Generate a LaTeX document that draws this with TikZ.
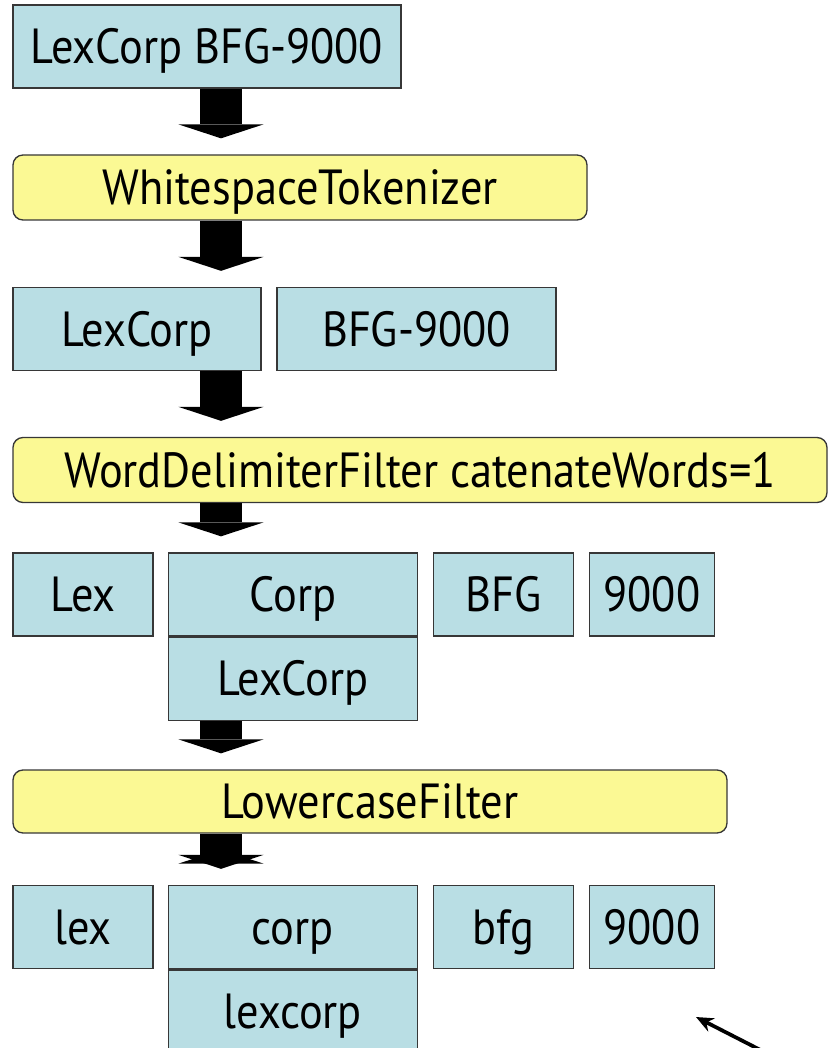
\documentclass[tikz,border=0pt]{standalone}
\usepackage{fontspec}
\setmainfont{PT Sans}[FakeStretch=0.9]
\usetikzlibrary{arrows.meta}
\usetikzlibrary{calc}
\usetikzlibrary{positioning}

\definecolor{tokenblue}{RGB}{185,222,228}
\definecolor{filteryellow}{RGB}{251,249,148}
\definecolor{boxline}{RGB}{55,55,55}

\tikzset{
  token/.style={draw=boxline,fill=tokenblue,line width=1pt,minimum height=62.25pt,inner sep=0pt,
    text height=25.5pt,text depth=0pt,font=\fontsize{37}{40}\selectfont},
  filter/.style={draw=boxline,fill=filteryellow,line width=1pt,rounded corners=7.5pt,minimum height=48.75pt,inner sep=0pt,
    text height=25.5pt,text depth=0pt,font=\fontsize{37}{40}\selectfont},
  flow/.style={line width=32pt,-{Triangle[width=64pt,length=10.5pt,line width=0pt]},shorten >=12pt}
}

\begin{document}
\begin{tikzpicture}[x=0.75pt,y=-0.75pt]

  \useasboundingbox (0,0) rectangle (829,1048);
  \clip (0,0) rectangle (829,1048);

  \node [token,minimum width=291pt] (src) at (207,46.5) {LexCorp BFG-9000};

  \node [filter,minimum width=430.5pt] (ws) at (300,187.5) {WhitespaceTokenizer};

  \node [token,minimum width=186pt] (w_lexcorp) at (137,329) {LexCorp};
  \node [token,minimum width=209.25pt,right=11pt of w_lexcorp] (w_bfg) {BFG-9000};

  \node [filter,minimum width=610.5pt] (wdf) at (420,470) {WordDelimiterFilter catenateWords=1};

  \node [token,minimum width=105pt] (d_lex) at (83,594.5) {Lex};
  \node [token,minimum width=186.75pt,right=10.5pt of d_lex] (d_corp) {Corp};
  \node [token,minimum width=186.75pt,below=0pt of d_corp] (d_lexcorp) {LexCorp};
  \node [token,minimum width=105pt,right=11pt of d_corp] (d_bfg) {BFG};
  \node [token,minimum width=93.75pt,right=11pt of d_bfg] (d_9000) {9000};

  \node [filter,minimum width=535.5pt,minimum height=47.25pt] (lc) at (370,801.5) {LowercaseFilter};

  \node [token,minimum width=105pt] (l_lex) at (83,927) {lex};
  \node [token,minimum width=186.75pt,right=10.5pt of l_lex] (l_corp) {corp};
  \node [token,minimum width=186.75pt,below=0pt of l_corp] (l_lexcorp) {lexcorp};
  \node [token,minimum width=105pt,right=11pt of l_corp] (l_bfg) {bfg};
  \node [token,minimum width=93.75pt,right=11pt of l_bfg] (l_9000) {9000};

  \coordinate (axis) at (221,0);

  \path [draw,flow]
    (src.south -| axis)       edge (ws.north -| axis)
    (ws.south -| axis)        edge (w_lexcorp.north -| axis)
    (w_lexcorp.south -| axis) edge (wdf.north -| axis)
    (wdf.south -| axis)       edge (d_lex.north -| axis)
    (d_lexcorp.south -| axis) edge (lc.north -| axis)
    (lc.south -| axis)        edge (l_lex.north -| axis);

  \coordinate (note_tail) at (778,1059);
  \coordinate (note_tip) at (696,1017);
  \draw [line width=2.8pt,-{Stealth[length=13pt,width=11pt]}] (note_tail) -- (note_tip);

\end{tikzpicture}
\end{document}
